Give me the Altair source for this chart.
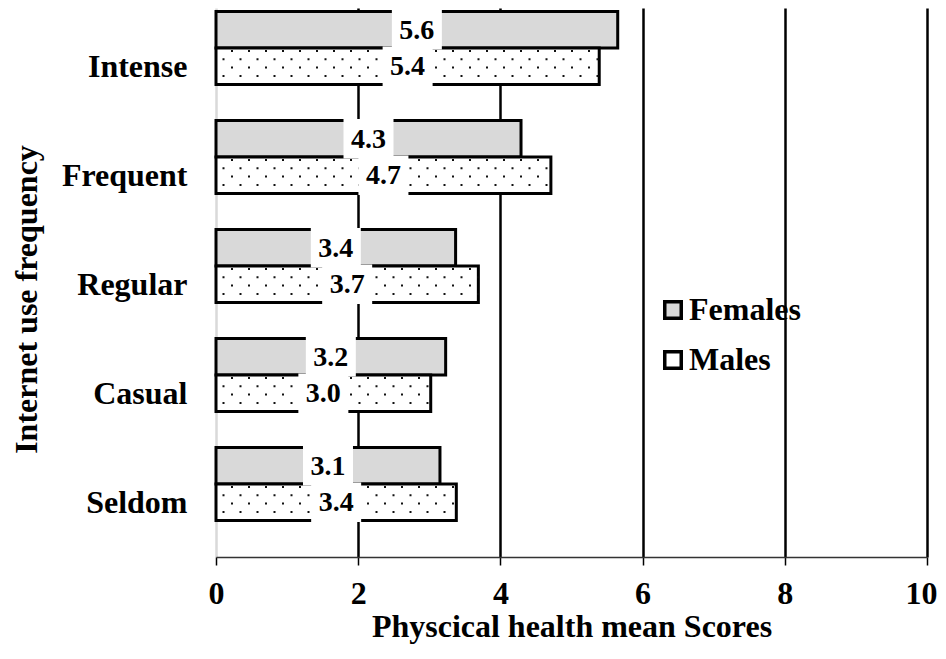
import json
import altair as alt
import pandas as pd

# ---- data ----
categories = ["Intense", "Frequent", "Regular", "Casual", "Seldom"]
groups = ["Females", "Males"]
females = [5.65, 4.29, 3.37, 3.23, 3.15]
males = [5.39, 4.71, 3.69, 3.02, 3.38]
female_labels = ["5.6", "4.3", "3.4", "3.2", "3.1"]
male_labels = ["5.4", "4.7", "3.7", "3.0", "3.4"]
x_ticks = [0, 2, 4, 6, 8, 10]

rows = []
for i, c in enumerate(categories):
    rows.append({"cat": c, "idx": i, "sex": groups[0], "value": females[i], "label": female_labels[i]})
    rows.append({"cat": c, "idx": i, "sex": groups[1], "value": males[i], "label": male_labels[i]})
df = pd.DataFrame(rows)

FONT = "Liberation Serif"
FS = 32

base = alt.Chart(df).transform_calculate(
    zero="0",
    y0="datum.sex == 'Females' ? datum.idx - 0.505 : datum.idx - 0.17",
    y1="datum.sex == 'Females' ? datum.idx - 0.17 : datum.idx + 0.165",
    yc="datum.sex == 'Females' ? datum.idx - 0.3375 : datum.idx - 0.0025",
    mid="datum.value / 2",
)

xscale = alt.Scale(domain=[0, 10], nice=False, zero=False)
yscale = alt.Scale(domain=[-0.5367, 4.5], reverse=True, nice=False, zero=False)

x_axis = alt.Axis(
    values=x_ticks,
    format="d",
    title="Physcical health mean Scores",
    titleFont=FONT, titleFontSize=FS, titleFontWeight="bold", titleColor="black",
    titleBaseline="alphabetic", titleY=79,
    labelFont=FONT, labelFontSize=FS, labelFontWeight="bold", labelColor="black",
    labelPadding=13, labelFlush=False, labelOverlap=False,
    labelOffset={"condition": {"test": "datum.value === 10", "value": -6}, "value": 0},
    tickSize=8, tickColor="black", tickWidth=1.5,
    domainColor="#333333", domainWidth=1.5,
    grid=True,
    gridColor={"condition": {"test": "datum.value === 0", "value": "#d9d9d9"}, "value": "black"},
    gridWidth=2.5,
)

y_axis = alt.Axis(
    values=list(range(len(categories))),
    labelExpr=json.dumps(categories) + "[round(datum.value)]",
    title="Internet use frequency",
    titleFont=FONT, titleFontSize=FS, titleFontWeight="bold", titleColor="black",
    titleAngle=270, titleAlign="center", titleBaseline="alphabetic",
    titleX=-180, titleY=291,
    labelFont=FONT, labelFontSize=FS, labelFontWeight="bold", labelColor="black",
    labelPadding=29, labelBaseline="middle", labelOverlap=False,
    ticks=False, domain=False, grid=False,
)

legend = alt.Legend(
    orient="none", legendX=441, legendY=286, title=None,
    labelFont=FONT, labelFontSize=FS, labelFontWeight="bold", labelColor="black",
    symbolType="square", symbolSize=272, symbolStrokeColor="black", symbolStrokeWidth=3.5,
    labelOffset=0, rowPadding=18, padding=0,
)

bars = base.mark_rect(stroke="black", strokeWidth=3).encode(
    x=alt.X("value:Q", scale=xscale, axis=x_axis),
    x2="zero:Q",
    y=alt.Y("y0:Q", scale=yscale, axis=y_axis),
    y2="y1:Q",
    fill=alt.Fill("sex:N", scale=alt.Scale(domain=groups, range=["#d9d9d9", "#ffffff"]), legend=legend),
)

# dotted pattern on the male bars
dot_rows = [(-15.5, 2), (-7.2, 10.5), (1.1, 2), (9.4, 10.5)]
dots = []
for off, dash_off in dot_rows:
    dots.append(
        base.transform_filter("datum.sex == 'Males'")
        .mark_rule(color="#111111", strokeWidth=2, strokeDash=[2, 15], strokeDashOffset=dash_off,
                   strokeCap="butt", yOffset=off)
        .encode(
            x=alt.X("zero:Q", scale=xscale, axis=x_axis),
            x2="value:Q",
            y=alt.Y("idx:Q", scale=yscale, axis=y_axis),
        )
    )

boxes = base.mark_rect(fill="white", xOffset=-25, x2Offset=25, yOffset=-1.5, y2Offset=1.5).encode(
    x=alt.X("mid:Q", scale=xscale, axis=x_axis),
    x2="mid:Q",
    y=alt.Y("y0:Q", scale=yscale, axis=y_axis),
    y2="y1:Q",
)

texts = base.mark_text(font=FONT, fontSize=28, fontWeight="bold", color="black",
                       align="center", baseline="middle", dy=1).encode(
    x=alt.X("mid:Q", scale=xscale, axis=x_axis),
    y=alt.Y("yc:Q", scale=yscale, axis=y_axis),
    text="label:N",
)

chart = alt.layer(bars, *dots, boxes, texts).properties(
    width=711,
    height=549,
    padding={"left": 208, "top": 0, "right": 10, "bottom": 89},
    autosize=alt.AutoSizeParams(type="none"),
).configure_view(stroke=None)

chart.save("out.html", embed_options={"renderer": "svg", "actions": False})
